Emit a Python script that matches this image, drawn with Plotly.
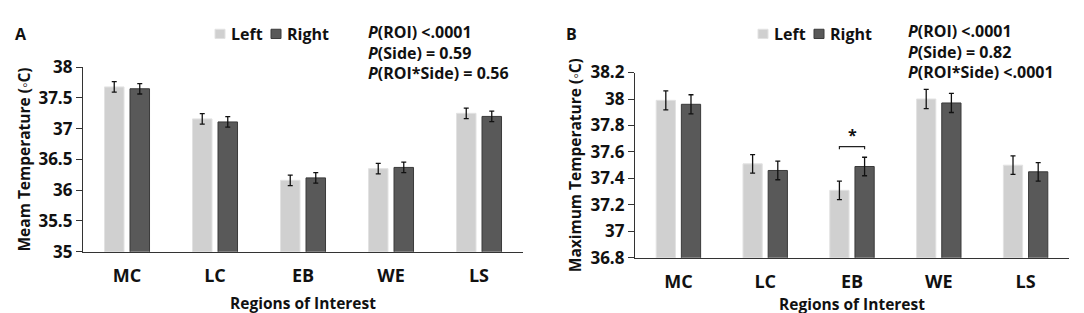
import plotly.graph_objects as go

categories = ["MC", "LC", "EB", "WE", "LS"]
series_names = ["Left", "Right"]

mean_left = [37.68, 37.16, 36.16, 36.35, 37.25]
mean_right = [37.65, 37.11, 36.20, 36.37, 37.20]
mean_left_err = [0.085, 0.085, 0.085, 0.085, 0.085]
mean_right_err = [0.085, 0.085, 0.085, 0.085, 0.085]

max_left = [37.99, 37.51, 37.31, 38.00, 37.50]
max_right = [37.96, 37.46, 37.49, 37.97, 37.45]
max_left_err = [0.072, 0.07, 0.07, 0.072, 0.07]
max_right_err = [0.072, 0.07, 0.07, 0.072, 0.07]

p_text_a = ["<i>P</i>(ROI) &lt;.0001", "<i>P</i>(Side) = 0.59", "<i>P</i>(ROI*Side) = 0.56"]
p_text_b = ["<i>P</i>(ROI) &lt;.0001", "<i>P</i>(Side) = 0.82", "<i>P</i>(ROI*Side) &lt;.0001"]

W, H = 1084, 313
LEFT_COLOR = "#d0d0d0"
RIGHT_COLOR = "#595959"
FONT = "Open Sans"
BARGAP = 0.42

def px(v):
    return v / W

def py(v):
    return 1 - v / H

fig = go.Figure()

def add_bars(xa, ya, left, right, lerr, rerr):
    err_style = dict(type="data", thickness=1.3, width=2.5, color="#111111")
    fig.add_trace(go.Bar(x=categories, y=left, name=series_names[0], xaxis=xa, yaxis=ya,
                         marker=dict(color=LEFT_COLOR, line=dict(color="#e2e2e2", width=1)),
                         error_y=dict(array=lerr, **err_style), showlegend=False))
    fig.add_trace(go.Bar(x=categories, y=right, name=series_names[1], xaxis=xa, yaxis=ya,
                         marker=dict(color=RIGHT_COLOR, line=dict(color="#3a3a3a", width=1)),
                         error_y=dict(array=rerr, **err_style), showlegend=False))

add_bars("x", "y", mean_left, mean_right, mean_left_err, mean_right_err)
add_bars("x2", "y2", max_left, max_right, max_left_err, max_right_err)

axis_line = dict(showline=True, linecolor="#333333", linewidth=1.3, showgrid=False, zeroline=False)
ytickfont = dict(family=FONT, size=17, color="#111111", weight="bold")
xtickfont = dict(family=FONT, size=18, color="#111111", weight="bold")
titlefont = dict(family=FONT, size=15.5, color="#111111", weight="bold")

fig.update_layout(
    width=W, height=H,
    margin=dict(l=0, r=0, t=0, b=0),
    paper_bgcolor="white", plot_bgcolor="white",
    barmode="group", bargap=BARGAP, bargroupgap=0.235,
    xaxis=dict(domain=[px(75), px(515)], anchor="y", type="category", **axis_line,
               ticks="outside", ticklen=8, tickcolor="rgba(0,0,0,0)", tickfont=xtickfont,
               title=dict(text="Regions of Interest", font=titlefont, standoff=11)),
    yaxis=dict(domain=[py(250), py(51)], anchor="x", range=[35, 38], dtick=0.5, **axis_line,
               ticks="outside", ticklen=6, tickcolor="#333333", tickfont=ytickfont,
               title=dict(text="Meam Temperature (◦C)", font=titlefont, standoff=4)),
    xaxis2=dict(domain=[px(627), px(1061)], anchor="y2", type="category", **axis_line,
                ticks="outside", ticklen=7, tickcolor="rgba(0,0,0,0)", tickfont=xtickfont,
                title=dict(text="Regions of Interest", font=titlefont, standoff=0)),
    yaxis2=dict(domain=[py(256.7), py(56.7)], anchor="x2", range=[36.8, 38.2], dtick=0.2, **axis_line,
                ticks="outside", ticklen=6, tickcolor="#333333", tickfont=ytickfont,
                title=dict(text="Maximum Temperature (◦C)", font=titlefont, standoff=4)),
)

# panel letters
for label, x in (("A", 5), ("B", 556)):
    fig.add_annotation(text=label, x=px(x), y=py(15), xref="paper", yref="paper",
                       xanchor="left", yanchor="middle", showarrow=False,
                       font=dict(family=FONT, size=16, color="#111111", weight="bold"))

# p-value text
for texts, x0, y0 in ((p_text_a, 358, 13), (p_text_b, 898, 12)):
    for i, t in enumerate(texts):
        fig.add_annotation(text=t, x=px(x0), y=py(y0 + 22.3 * i), xref="paper", yref="paper",
                           xanchor="left", yanchor="middle", showarrow=False,
                           font=dict(family=FONT, size=16, color="#111111", weight="bold"))

# custom legends
for sq_x in ((207, 263), (750, 806)):
    for name, color, lc, sx in ((series_names[0], LEFT_COLOR, "#e2e2e2", sq_x[0]),
                                (series_names[1], RIGHT_COLOR, "#3a3a3a", sq_x[1])):
        fig.add_shape(type="rect", xref="paper", yref="paper",
                      x0=px(sx), x1=px(sx + 10), y0=py(20), y1=py(10),
                      fillcolor=color, line=dict(color=lc, width=1))
        fig.add_annotation(text=name, x=px(sx + 14), y=py(15), xref="paper", yref="paper",
                           xanchor="left", yanchor="middle", showarrow=False,
                           font=dict(family=FONT, size=16, color="#111111", weight="bold"))

# significance bracket over EB in panel B
off = (1 - BARGAP) / 4
eb = categories.index("EB")
fig.add_shape(type="path", xref="x2", yref="y2",
              path=f"M {eb - off} 37.62 L {eb - off} 37.64 L {eb + off} 37.64 L {eb + off} 37.62",
              line=dict(color="#222222", width=1.2))
fig.add_annotation(text="*", x=eb, y=37.73, xref="x2", yref="y2", showarrow=False,
                   font=dict(family=FONT, size=16, color="#111111", weight="bold"))

fig.write_html("out.html")
